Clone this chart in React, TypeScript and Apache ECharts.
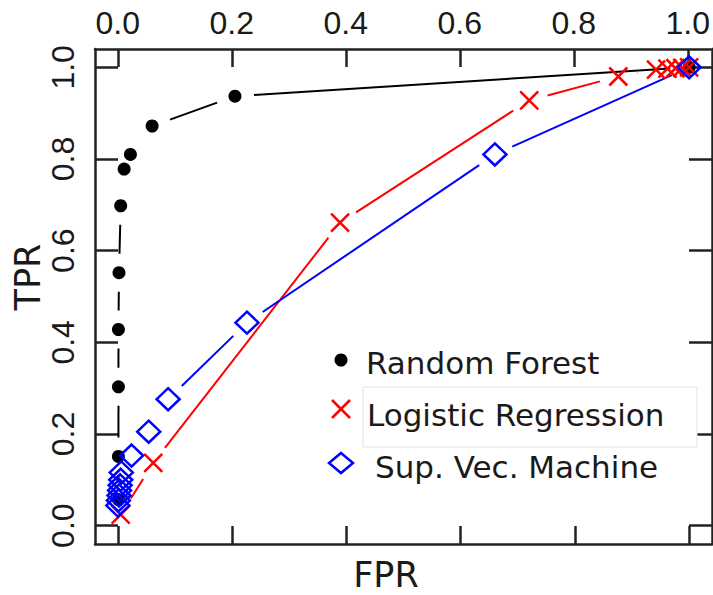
import React, { useEffect, useRef } from "react";
import * as echarts from "echarts";

// ---- data ----
const TICKS = [0, 0.2, 0.4, 0.6, 0.8, 1.0];
const AXIS_MIN = -0.04;
const AXIS_MAX = 1.04;

const SERIES_NAMES = ["Random Forest", "Logistic Regression", "Sup. Vec. Machine"];

const rfFPR = [0.001, 0.001, 0.001, 0.001, 0.002, 0.005, 0.011, 0.022, 0.06, 0.205, 1.0];
const rfTPR = [0.057, 0.151, 0.303, 0.428, 0.552, 0.698, 0.778, 0.81, 0.872, 0.937, 1.0];

const lrFPR = [0.005, 0.062, 0.389, 0.72, 0.876, 0.942, 0.962, 0.976, 0.988, 1.0];
const lrTPR = [0.024, 0.137, 0.661, 0.928, 0.98, 0.995, 0.997, 0.998, 0.999, 1.0];

const svmFPR = [0.0, 0.001, 0.002, 0.003, 0.004, 0.005, 0.006, 0.024, 0.054, 0.088, 0.226, 0.66, 1.0];
const svmTPR = [0.044, 0.055, 0.066, 0.077, 0.088, 0.1, 0.116, 0.153, 0.205, 0.276, 0.443, 0.81, 1.0];

const zip = (a: number[], b: number[]) => a.map((v, i) => [v, b[i]]);

const GAP = 19; // R type="b" gap around points, in px
const AXIS_COLOR = "#222";
const TEXT_COLOR = "#1a1a1a";
const EPS = 0.06;

function gapLine(data: number[][], color: string, width: number, z: number) {
  return {
    type: "custom",
    xAxisIndex: 0,
    yAxisIndex: 0,
    silent: true,
    clip: false,
    z,
    data,
    renderItem: (params: any, api: any) => {
      const i = params.dataIndex;
      if (i >= data.length - 1) return { type: "group", children: [] };
      const p = api.coord(data[i]);
      const q = api.coord(data[i + 1]);
      const dx = q[0] - p[0];
      const dy = q[1] - p[1];
      const len = Math.sqrt(dx * dx + dy * dy);
      if (len <= 2 * GAP) return { type: "group", children: [] };
      const ux = dx / len;
      const uy = dy / len;
      const x1 = p[0] + ux * GAP;
      const y1 = p[1] + uy * GAP;
      let x2 = q[0] - ux * GAP;
      let y2 = q[1] - uy * GAP;
      if (Math.abs(x2 - x1) < EPS) x2 = x1 + EPS;
      if (Math.abs(y2 - y1) < EPS) y2 = y1 + EPS;
      return {
        type: "line",
        shape: { x1, y1, x2, y2 },
        style: { stroke: color, lineWidth: width, fill: null },
      };
    },
  };
}

const GRID_RECT = { left: 95, right: 1, top: 49, bottom: 51, containLabel: false };
const boxLine = { show: true, lineStyle: { color: AXIS_COLOR, width: 2.5 } };
const tickX = { show: true, inside: true, length: 18, customValues: TICKS, lineStyle: { color: AXIS_COLOR, width: 2.5 } };
const tickY = { show: true, inside: true, length: 23, customValues: TICKS, lineStyle: { color: AXIS_COLOR, width: 2.5 } };
const labelFont = { fontFamily: "Liberation Sans, Arial, sans-serif", fontSize: 32, color: TEXT_COLOR };
const noSplit = { show: false };

export default function App() {
  const ref = useRef<HTMLDivElement>(null);
  useEffect(() => {
    if (!ref.current) return;
    const chart = echarts.init(ref.current, null, { renderer: "svg" });
    const rf = zip(rfFPR, rfTPR);
    const lr = zip(lrFPR, lrTPR);
    const svm = zip(svmFPR, svmTPR);
    const legendFont = { fontFamily: "DejaVu Sans", fontSize: 31, fill: TEXT_COLOR };
    chart.setOption({
      animation: false,
      backgroundColor: "#fff",
      // grid 0 holds the data; grids 1-4 (same rectangle) each carry one side of the box
      grid: [GRID_RECT, GRID_RECT, GRID_RECT, GRID_RECT, GRID_RECT],
      xAxis: [
        { type: "value", gridIndex: 0, show: false, min: AXIS_MIN, max: AXIS_MAX, splitLine: noSplit },
        {
          type: "value",
          gridIndex: 1,
          position: "bottom",
          min: AXIS_MIN,
          max: AXIS_MAX,
          axisLine: boxLine,
          axisTick: tickX,
          axisLabel: { show: false },
          splitLine: noSplit,
        },
        {
          type: "value",
          gridIndex: 2,
          position: "top",
          min: AXIS_MIN,
          max: AXIS_MAX,
          axisLine: boxLine,
          axisTick: tickX,
          axisLabel: {
            show: true,
            customValues: TICKS,
            margin: 10,
            formatter: (v: number) => v.toFixed(1),
            ...labelFont,
          },
          splitLine: noSplit,
        },
        { type: "value", gridIndex: 3, show: false, min: 0, max: 1, splitLine: noSplit },
        { type: "value", gridIndex: 4, show: false, min: 0, max: 1, inverse: true, splitLine: noSplit },
      ],
      yAxis: [
        { type: "value", gridIndex: 0, show: false, min: AXIS_MIN, max: AXIS_MAX, splitLine: noSplit },
        { type: "value", gridIndex: 1, show: false, min: 0, max: 1, splitLine: noSplit },
        { type: "value", gridIndex: 2, show: false, min: 0, max: 1, inverse: true, splitLine: noSplit },
        {
          type: "value",
          gridIndex: 3,
          position: "left",
          min: AXIS_MIN,
          max: AXIS_MAX,
          axisLine: boxLine,
          axisTick: tickY,
          axisLabel: {
            show: true,
            customValues: TICKS,
            rotate: 90,
            margin: 16,
            formatter: (v: number) => v.toFixed(1),
            ...labelFont,
          },
          splitLine: noSplit,
        },
        {
          type: "value",
          gridIndex: 4,
          position: "right",
          min: AXIS_MIN,
          max: AXIS_MAX,
          axisLine: boxLine,
          axisTick: tickY,
          axisLabel: { show: false },
          splitLine: noSplit,
        },
      ],
      series: [
        gapLine(rf, "#000", 2, 2),
        {
          name: SERIES_NAMES[0],
          type: "scatter",
          xAxisIndex: 0,
          yAxisIndex: 0,
          data: rf,
          clip: false,
          symbol: "circle",
          symbolSize: 13,
          itemStyle: { color: "#000", opacity: 1 },
          z: 3,
        },
        gapLine(lr, "#ff0000", 2, 2),
        {
          name: SERIES_NAMES[1],
          type: "scatter",
          xAxisIndex: 0,
          yAxisIndex: 0,
          data: lr,
          clip: false,
          symbol: "path://M0 0L10 10M10 0L0 10",
          symbolSize: 18,
          itemStyle: { color: "none", borderColor: "#ff0000", borderWidth: 2.5, opacity: 1 },
          z: 3,
        },
        gapLine(svm, "#0000ff", 2, 2),
        {
          name: SERIES_NAMES[2],
          type: "scatter",
          xAxisIndex: 0,
          yAxisIndex: 0,
          data: svm,
          clip: false,
          symbol: "diamond",
          symbolSize: [23, 22],
          itemStyle: { color: "rgba(0,0,0,0)", borderColor: "#0000ff", borderWidth: 2.5, opacity: 1 },
          z: 3,
        },
      ],
      graphic: [
        {
          type: "text",
          x: 28,
          y: 277,
          rotation: Math.PI / 2,
          style: {
            text: "TPR",
            fontFamily: "DejaVu Sans",
            fontSize: 35,
            fill: TEXT_COLOR,
            align: "center",
            verticalAlign: "middle",
          },
        },
        {
          type: "text",
          x: 386,
          y: 575,
          style: {
            text: "FPR",
            fontFamily: "DejaVu Sans",
            fontSize: 35,
            fill: TEXT_COLOR,
            align: "center",
            verticalAlign: "middle",
          },
        },
        // legend
        {
          type: "rect",
          shape: { x: 363, y: 387, width: 334, height: 60 },
          style: { fill: "#fff", stroke: "#e2e2e2", lineWidth: 1 },
          z: 10,
        },
        {
          type: "circle",
          shape: { cx: 341, cy: 360, r: 6.5 },
          style: { fill: "#000" },
          z: 11,
        },
        {
          type: "text",
          x: 366,
          y: 363,
          style: { text: SERIES_NAMES[0], ...legendFont, verticalAlign: "middle" },
          z: 11,
        },
        {
          type: "line",
          shape: { x1: 332, y1: 400, x2: 350, y2: 418 },
          style: { stroke: "#ff0000", lineWidth: 2.5 },
          z: 11,
        },
        {
          type: "line",
          shape: { x1: 350, y1: 400, x2: 332, y2: 418 },
          style: { stroke: "#ff0000", lineWidth: 2.5 },
          z: 11,
        },
        {
          type: "text",
          x: 367,
          y: 415,
          style: { text: SERIES_NAMES[1], ...legendFont, verticalAlign: "middle" },
          z: 11,
        },
        {
          type: "polygon",
          shape: { points: [[341, 453], [353, 463], [341, 473], [329, 463]] },
          style: { fill: "none", stroke: "#0000ff", lineWidth: 2.5 },
          z: 11,
        },
        {
          type: "text",
          x: 375,
          y: 467,
          style: { text: SERIES_NAMES[2], ...legendFont, verticalAlign: "middle" },
          z: 11,
        },
      ],
    });
    return () => chart.dispose();
  }, []);
  return (
    <div
      ref={ref}
      style={{ position: "fixed", left: 0, top: 0, width: 713, height: 595, background: "#fff" }}
    />
  );
}
